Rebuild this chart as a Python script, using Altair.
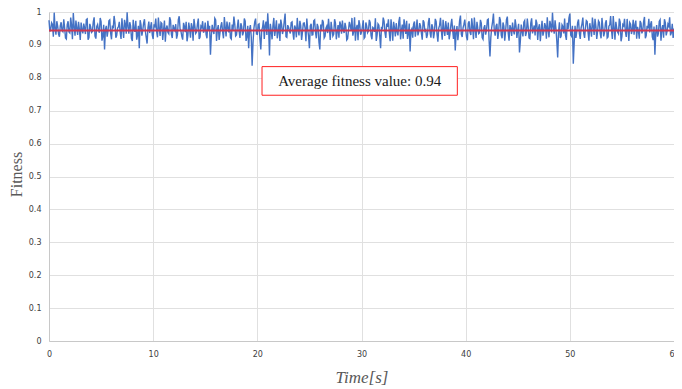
import altair as alt
import pandas as pd

# Fitness samples (thousandths), one every 1/6 s from 0 to 60 s
FITNESS_MILLI = [
    975, 948, 962, 998, 931, 957, 925, 969, 940, 953,
    918, 972, 936, 960, 997, 928, 951, 970, 915, 946,
    965, 933, 979, 922, 955, 941, 984, 919, 962, 937,
    971, 926, 886, 958, 943, 976, 917, 950, 967, 929,
    955, 938, 981, 921, 963, 999, 934, 958, 912, 947,
    973, 930, 890, 961, 944, 978, 923, 952, 936, 969,
    918, 957, 940, 983, 927, 965, 945, 910, 959, 934,
    975, 921, 950, 963, 931, 987, 942, 916, 956, 970,
    929, 948, 966, 913, 958, 939, 980, 924, 953, 937,
    968, 920, 945, 870, 961, 933, 976, 947, 915, 958,
    940, 985, 926, 952, 969, 918, 944, 963, 930, 977,
    921, 956, 938, 972, 925, 890, 960, 837, 949, 980,
    932, 964, 886, 953, 918, 971, 996, 868, 943, 959,
    927, 975, 940, 912, 962, 946, 995, 923, 954, 935,
    970, 916, 951, 982, 929, 958, 939, 967, 911, 948,
    890, 964, 931, 976, 920, 955, 886, 943, 969, 926,
    957, 979, 915, 948, 933, 966, 940, 922, 961, 974,
    936, 953, 919, 970, 945, 928, 984, 951, 914, 962,
    938, 975, 924, 957, 942, 968, 917, 950, 981, 930,
    960, 890, 947, 972, 921, 955, 937, 978, 913, 952,
    966, 929, 985, 944, 919, 958, 973, 934, 880, 949,
    963, 925, 977, 940, 958, 916, 969, 946, 931, 982,
    922, 954, 938, 971, 910, 960, 943, 976, 927, 952,
    968, 935, 979, 918, 883, 957, 941, 989, 924, 963,
    946, 914, 972, 930, 955, 983, 921, 950, 937, 966,
    917, 960, 944, 978, 865, 953, 995, 928, 964, 939,
    975, 920, 957, 942, 986, 913, 951, 968, 932, 959,
    945, 877, 962, 926, 974, 938, 955, 919, 981, 947,
    929, 966, 952, 911, 973, 940, 957, 984, 923, 960,
    998, 934, 950, 862, 969, 927, 956, 980, 915, 948,
    995, 926, 843, 958, 940, 977, 918, 964, 936, 951,
    971, 913, 948, 983, 930, 957, 942, 968, 920, 955,
    937, 975, 924, 961, 945, 988, 916, 952, 934, 969,
    926, 958, 940, 979, 912, 963, 947, 931, 974, 955,
    919, 966, 943, 985, 928, 950, 938, 972, 915, 870,
    960, 934, 976, 947, 922, 968, 941, 957, 929, 964,
    950,
]
# Fitness samples (thousandths) lying halfway between the ones above
FITNESS_MID_MILLI = [
    941, 967, 925, 950, 972, 933, 958, 944, 978, 921,
    962, 939, 983, 917, 955, 974, 930, 948, 968, 935,
    952, 977, 916, 964, 938, 970, 927, 956, 945, 982,
    913, 961, 947, 925, 973, 936, 959, 988, 922, 951,
    970, 918, 949, 976, 934, 957, 969, 920, 976, 940,
    916, 958, 975, 928, 966, 942, 904, 971, 955, 930,
    963, 980, 923, 952, 968, 915, 974, 950, 938, 984,
    932, 961, 944, 919, 977, 948, 926, 967, 939, 911,
    968, 922, 954, 979, 935, 963, 918, 957, 972, 946,
    931, 973, 958, 928, 944, 981, 912, 960, 937, 969,
    920, 953, 971, 938, 922, 962, 986, 927, 955, 942,
    966, 929, 980, 912, 958, 946, 925, 905, 970, 933,
    962, 918, 944, 975, 959, 930, 950, 964, 917, 982,
    948, 920, 965, 977, 933, 972, 925, 960, 942, 968,
    937, 959, 923, 946, 973, 915, 966, 951, 980, 927,
    958, 930, 973, 939, 964, 908, 962, 976, 921, 951,
    936, 949, 970, 927, 978, 917, 960, 971, 934, 945,
    967, 915, 944, 958, 982, 940, 913, 961, 975, 931,
    955, 920, 968, 937, 976, 929, 953, 940, 912, 964,
    928, 955, 983, 938, 965, 978, 911, 949, 970, 926,
    940, 971, 917, 962, 978, 933, 918, 965, 943, 922,
    971, 948, 929, 966, 935, 975, 942, 921, 968, 937,
    963, 920, 979, 933, 951, 982, 916, 946, 972, 930,
    917, 961, 945, 959, 938, 914, 973, 932, 952, 977,
    924, 966, 938, 981, 917, 948, 970, 934, 976, 922,
    952, 931, 976, 914, 923, 970, 942, 958, 918, 985,
    930, 968, 913, 977, 936, 960, 927, 944, 978, 921,
    964, 912, 941, 969, 927, 980, 921, 966, 935, 959,
    977, 915, 963, 945, 928, 966, 919, 947, 973, 938,
    954, 975, 912, 940, 921, 961, 935, 929, 967, 982,
    930, 958, 906, 921, 968, 935, 952, 983, 921, 974,
    938, 966, 925, 957, 979, 918, 973, 935, 982, 926,
    966, 921, 957, 988, 918, 952, 970, 939, 980, 911,
    962, 979, 924, 948, 968, 933, 976, 961, 919, 943,
    973, 935, 971, 920, 958, 979, 962, 924, 956, 938,
    925, 971, 913, 960, 978, 929, 963, 984, 937, 921,
]
SAMPLES_PER_SECOND = 6
AVERAGE = [0.944]
LABEL = ["Average fitness value: 0.94"]
X_TICKS = [0, 10, 20, 30, 40, 50, 60]
Y_TICKS = [0, 0.1, 0.2, 0.3, 0.4, 0.5, 0.6, 0.7, 0.8, 0.9, 1.0]

times, values = [], []
for i, v in enumerate(FITNESS_MILLI):
    times.append(i / SAMPLES_PER_SECOND)
    values.append(v / 1000)
    if i < len(FITNESS_MID_MILLI):
        times.append((i + 0.5) / SAMPLES_PER_SECOND)
        values.append(FITNESS_MID_MILLI[i] / 1000)
series = pd.DataFrame({"time": times, "fitness": values})

label_color = "#595959"
x_scale = alt.Scale(domain=[0, 60], nice=False)
y_scale = alt.Scale(domain=[0, 1], nice=False, zero=True)

x_axis = alt.Axis(
    values=X_TICKS, title="Time[s]", titleFont="Liberation Serif",
    titleFontStyle="italic", titleFontWeight="normal", titleFontSize=17,
    titleColor=label_color, titleBaseline="middle", titleY=36,
    labelFont="DejaVu Sans", labelFontSize=8, labelColor="#404040",
    labelPadding=9, tickSize=0, domainColor="#c8c8c8", gridColor="#e0e0e0",
    labelFlush=False, labelOverlap=False,
)
y_axis = alt.Axis(
    values=Y_TICKS, format=".1~f", title="Fitness", titleFont="Liberation Serif",
    titleFontWeight="normal", titleFontSize=16, titleColor=label_color,
    titleBaseline="middle", titleX=-33, titleY=162, titleAngle=270,
    labelFont="DejaVu Sans", labelFontSize=8, labelColor="#404040",
    labelPadding=8, tickSize=0, domainColor="#c8c8c8", gridColor="#e0e0e0",
    labelFlush=False, labelOverlap=False,
)

line = alt.Chart(series).mark_line(color="#4472C4", strokeWidth=1.4).encode(
    x=alt.X("time:Q", scale=x_scale, axis=x_axis),
    y=alt.Y("fitness:Q", scale=y_scale, axis=y_axis),
)

avg = alt.Chart(pd.DataFrame({"avg": AVERAGE})).mark_rule(
    color="#d0344f", strokeWidth=2
).encode(y=alt.Y("avg:Q", scale=y_scale, axis=y_axis))

box_df = pd.DataFrame({"x0": [20.45], "x1": [39.2], "y0": [0.747], "y1": [0.834],
                       "xc": [29.82], "yc": [0.79], "label": LABEL})
box = alt.Chart(box_df).mark_rect(fill="white", stroke="#ff2020", strokeWidth=1).encode(
    x=alt.X("x0:Q", scale=x_scale, axis=x_axis), x2="x1",
    y=alt.Y("y0:Q", scale=y_scale, axis=y_axis), y2="y1",
)
text = alt.Chart(box_df).mark_text(
    font="Liberation Serif", fontSize=15, color="#1a1a1a", baseline="middle", align="center"
).encode(
    x=alt.X("xc:Q", scale=x_scale, axis=x_axis),
    y=alt.Y("yc:Q", scale=y_scale, axis=y_axis),
    text="label:N",
)

chart = alt.layer(line, avg, box, text).properties(
    width=625, height=329,
    autosize=alt.AutoSizeParams(type="none"),
    padding={"left": 41, "top": 4, "right": 0, "bottom": 45},
).configure_view(stroke=None)

chart.save("out.html", embed_options={"renderer": "svg", "actions": False})
